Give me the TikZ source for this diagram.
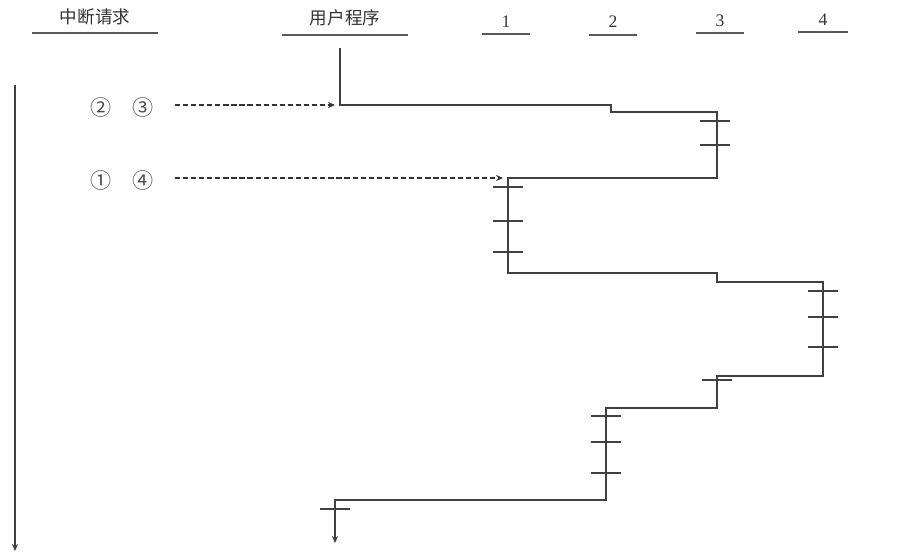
\documentclass[tikz,border=0pt]{standalone}
\usepackage{fontspec}
\setmainfont{Liberation Serif}
\newfontfamily\cjk{Noto Sans CJK SC}
\usetikzlibrary{arrows.meta}

\tikzset{
	head/.style={inner sep=0pt, text=black!80},
	rule/.style={line width=1.6pt, black!65},
	flow/.style={line width=1pt, black!75},
	tick/.style={line width=1pt, black!75},
	req/.style={line width=0.9pt, black!80, dash pattern=on 3pt off 1.6pt, -{Stealth[length=4pt,width=3.5pt]}},
	num/.style={font=\cjk\large, text=black!70}
}

\begin{document}
\begin{tikzpicture}[x=0.02cm, y=-0.02cm]
	\useasboundingbox (0,0) rectangle (906,559);

	% column heads
	\node[head, minimum width=2.52cm, font=\cjk] (irq) at (95,17) {中断请求};
	\node[head, minimum width=2.5cm, font=\cjk] (user) at (345,18) {用户程序};
	\node[head, minimum width=0.96cm] (p1) at (506,22) {1};
	\node[head, minimum width=0.96cm] (p2) at (613,22) {2};
	\node[head, minimum width=0.96cm] (p3) at (720,21) {3};
	\node[head, minimum width=1cm] (p4) at (823,20) {4};
	\draw[rule] ([yshift=-0.32cm]irq.west) -- ([yshift=-0.32cm]irq.east);
	\draw[rule] ([yshift=-0.34cm]user.west) -- ([yshift=-0.34cm]user.east);
	\draw[rule] ([yshift=-0.24cm]p1.west) -- ([yshift=-0.24cm]p1.east);
	\draw[rule] ([yshift=-0.26cm]p2.west) -- ([yshift=-0.26cm]p2.east);
	\draw[rule] ([yshift=-0.24cm]p3.west) -- ([yshift=-0.24cm]p3.east);
	\draw[rule] ([yshift=-0.24cm]p4.west) -- ([yshift=-0.24cm]p4.east);

	% time axis
	\coordinate (t0) at (15,85);
	\coordinate (t1) at (15,551);
	\draw[flow, -{Stealth[length=4pt,width=3.5pt]}] (t0) -- (t1);

	% requests
	\node[num] (r2) at (101,107) {②};
	\node[num] (r3) at (143,107) {③};
	\node[num] (r1) at (101,180) {①};
	\node[num] (r4) at (143,180) {④};

	% run path
	\coordinate (s0) at (340,48);
	\coordinate (s1) at (340,105);
	\coordinate (s2) at (611,105);
	\coordinate (s3) at (611,112);
	\coordinate (s4) at (717,112);
	\coordinate (s5) at (717,178);
	\coordinate (s6) at (508,178);
	\coordinate (s7) at (508,273);
	\coordinate (s8) at (717,273);
	\coordinate (s9) at (717,282);
	\coordinate (s10) at (823,282);
	\coordinate (s11) at (823,376);
	\coordinate (s12) at (717,376);
	\coordinate (s13) at (717,408);
	\coordinate (s14) at (606,408);
	\coordinate (s15) at (606,500);
	\coordinate (s16) at (335,500);
	\coordinate (s17) at (335,543);

	\draw[flow, -{Stealth[length=4pt,width=3.5pt]}] (s0) -- (s1) -- (s2) -- (s3) -- (s4) -- (s5) -- (s6) -- (s7) -- (s8) -- (s9)
		-- (s10) -- (s11) -- (s12) -- (s13) -- (s14) -- (s15) -- (s16) -- (s17);

	\draw[req] ([xshift=0.3cm]s1 -| r3.east) -- ([xshift=-0.1cm]s1);
	\draw[req] ([xshift=0.3cm]s6 -| r4.east) -- ([xshift=-0.1cm]s6);

	% ticks
	\foreach \x/\y in {715/121, 715/145, 508/187, 508/221, 508/252, 823/291, 823/317, 823/347,
		717/380, 606/416, 606/442, 606/473, 335/509}
		\draw[tick] (\x,\y) ++(-15,0) -- ++(30,0);

\end{tikzpicture}
\end{document}
